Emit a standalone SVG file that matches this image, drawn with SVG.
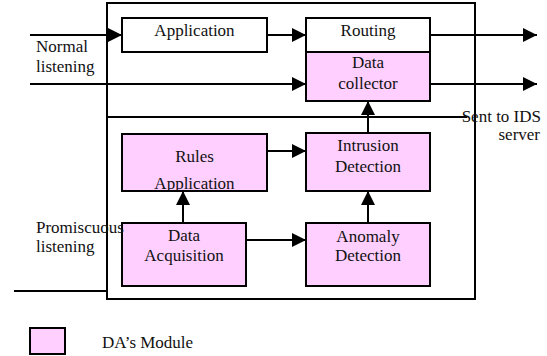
<svg xmlns="http://www.w3.org/2000/svg" width="547" height="356" viewBox="0 0 547 356" font-family="'Liberation Serif', 'Times New Roman', Times, 'DejaVu Serif', serif">
  <style>
    text { font-family: 'Liberation Serif', 'Times New Roman', Times, 'DejaVu Serif', serif; font-size: 17px; fill: #111; }
    .mid { text-anchor: middle; }
    .end { text-anchor: end; }
    .box { stroke: #000; stroke-width: 2; }
    .plain { fill: #fff; }
    .da { fill: #ffd0ff; }
    .wire { stroke: #000; stroke-width: 2; fill: none; }
  </style>
  <defs>
    <marker id="arrow" viewBox="0 0 10 10" refX="10" refY="5" markerWidth="15" markerHeight="14" markerUnits="userSpaceOnUse" orient="auto">
      <path d="M0,0 L10,5 L0,10 Z" fill="#000"/>
    </marker>
    <clipPath id="rulesClip"><rect x="122" y="134" width="145" height="57"/></clipPath>
  </defs>
  <rect width="547" height="356" fill="#fff"/>

  <!-- host boundary -->
  <g id="host">
    <rect x="107" y="3" width="368" height="296" fill="none" stroke="#000" stroke-width="2"/>
  </g>

  <g id="connectors">
    <line class="wire" x1="30" y1="35" x2="122" y2="35" marker-end="url(#arrow)"/>
    <line class="wire" x1="267" y1="35" x2="306" y2="35" marker-end="url(#arrow)"/>
    <line class="wire" x1="430" y1="35" x2="537" y2="35" marker-end="url(#arrow)"/>
    <line class="wire" x1="30" y1="84" x2="306" y2="84" marker-end="url(#arrow)"/>
    <line class="wire" x1="430" y1="84" x2="537" y2="84" marker-end="url(#arrow)"/>
    <line class="wire" x1="107" y1="117" x2="467" y2="117"/>
    <line class="wire" x1="368" y1="133" x2="368" y2="101" marker-end="url(#arrow)"/>
    <line class="wire" x1="267" y1="151" x2="306" y2="151" marker-end="url(#arrow)"/>
    <line class="wire" x1="183" y1="223" x2="183" y2="191" marker-end="url(#arrow)"/>
    <line class="wire" x1="246" y1="240" x2="306" y2="240" marker-end="url(#arrow)"/>
    <line class="wire" x1="368" y1="223" x2="368" y2="191" marker-end="url(#arrow)"/>
    <line class="wire" x1="14" y1="291" x2="107" y2="291"/>
  </g>

  <g id="application">
    <rect class="box plain" x="122" y="18" width="145" height="34"/>
    <text class="mid" x="194.5" y="36">Application</text>
  </g>
  <g id="routing">
    <rect class="box plain" x="306" y="18" width="124" height="34"/>
    <text class="mid" x="368" y="36">Routing</text>
  </g>
  <g id="data-collector">
    <rect class="box da" x="306" y="52" width="124" height="49"/>
    <text class="mid" x="368" y="68">Data</text>
    <text class="mid" x="368" y="89">collector</text>
  </g>
  <g id="rules-application">
    <rect class="da" x="122" y="134" width="145" height="57"/>
    <g clip-path="url(#rulesClip)">
      <text class="mid" x="194.5" y="162">Rules</text>
      <text class="mid" x="194.5" y="189">Application</text>
    </g>
    <rect class="box" fill="none" x="122" y="134" width="145" height="57"/>
  </g>
  <g id="intrusion-detection">
    <rect class="box da" x="306" y="133" width="124" height="58"/>
    <text class="mid" x="368" y="151">Intrusion</text>
    <text class="mid" x="368" y="172">Detection</text>
  </g>
  <g id="data-acquisition">
    <rect class="box da" x="122" y="223" width="124" height="63"/>
    <text class="mid" x="184" y="241">Data</text>
    <text class="mid" x="184" y="261">Acquisition</text>
  </g>
  <g id="anomaly-detection">
    <rect class="box da" x="306" y="223" width="124" height="63"/>
    <text class="mid" x="368" y="242">Anomaly</text>
    <text class="mid" x="368" y="261">Detection</text>
  </g>

  <g id="labels">
    <text x="36" y="52">Normal</text>
    <text x="36" y="72">listening</text>
    <text x="36" y="233">Promiscuous</text>
    <text x="36" y="252">listening</text>
    <text class="end" x="541" y="122">Sent to IDS</text>
    <text class="end" x="540" y="140">server</text>
  </g>

  <g id="legend">
    <rect class="box da" x="30" y="328" width="35" height="26"/>
    <text x="102" y="348">DA’s Module</text>
  </g>
</svg>
